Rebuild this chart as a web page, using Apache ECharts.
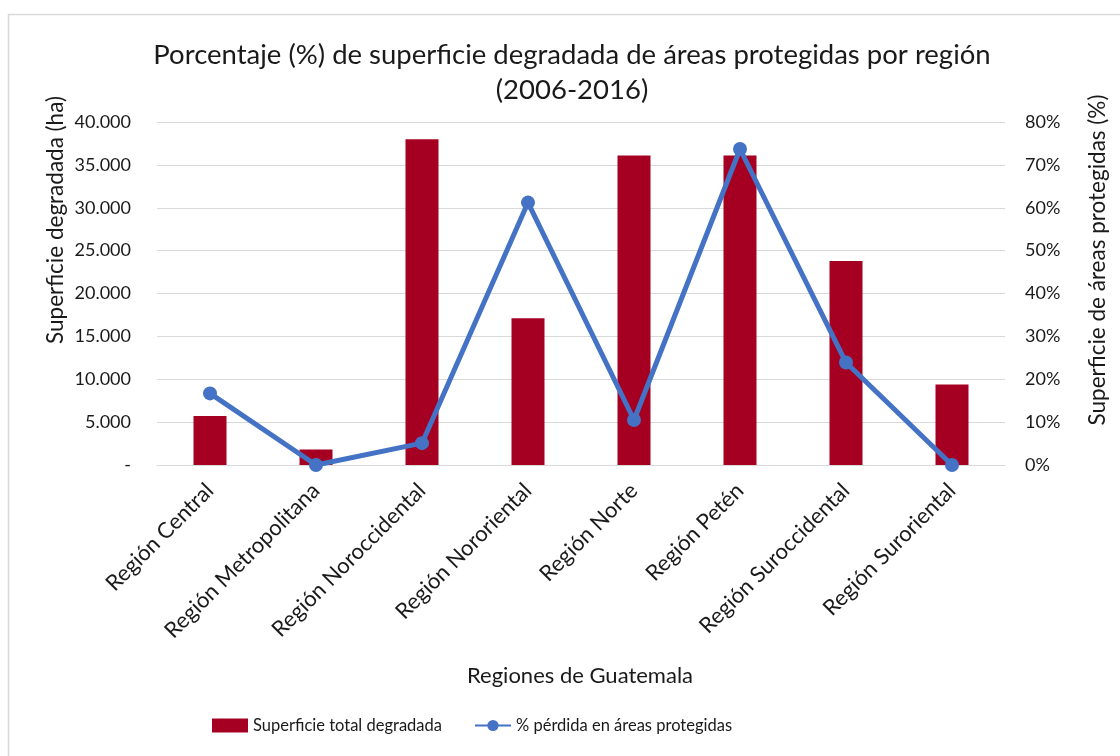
<!DOCTYPE html>
<html>
<head>
<meta charset="utf-8">
<script src="https://cdn.jsdelivr.net/npm/echarts@6/dist/echarts.min.js"></script>
<style>
  html, body { margin: 0; padding: 0; background: #fff; }
  #chart { width: 1120px; height: 756px; }
</style>
</head>
<body>
<div id="chart"></div>
<script>
// datos
const regiones = ['Región Central', 'Región Metropolitana', 'Región Noroccidental', 'Región Nororiental',
  'Región Norte', 'Región Petén', 'Región Suroccidental', 'Región Suroriental']
const superficieDegradada = [5700, 1800, 38000, 17100, 36100, 36100, 23800, 9400]
const perdidaPct = [16.7, 0, 5.1, 61.2, 10.5, 73.7, 23.9, 0]

const font = 'Lato, "Open Sans", sans-serif'
const textColor = '#1a1a1a'

const fmtMiles = v => v === 0 ? '-' : String(v).replace(/\B(?=(\d{3})+(?!\d))/g, '.')

const chart = echarts.init(document.getElementById('chart'))

chart.setOption({
  backgroundColor: '#fff',
  animation: false,
  textStyle: { fontFamily: font, color: textColor },
  grid: { left: 157, right: 115, top: 122, bottom: 291 },
  legend: {
    left: 207,
    top: 712,
    itemWidth: 36,
    itemHeight: 14,
    itemGap: 32,
    textStyle: { fontFamily: font, fontSize: 16.5, color: textColor },
    data: [
      { name: 'Superficie total degradada', icon: 'rect' },
      { name: '% pérdida en áreas protegidas' }
    ]
  },
  xAxis: {
    type: 'category',
    data: regiones,
    axisLine: { lineStyle: { color: '#d9d9d9', width: 1 } },
    axisTick: { show: false },
    axisLabel: {
      rotate: 45,
      margin: 22,
      fontSize: 22,
      fontFamily: font,
      color: textColor
    }
  },
  yAxis: [
    {
      type: 'value',
      min: 0,
      max: 40000,
      interval: 5000,
      axisLine: { show: false },
      axisTick: { show: false },
      splitLine: { lineStyle: { color: '#d9d9d9', width: 1 } },
      axisLabel: { formatter: fmtMiles, margin: 26, fontSize: 18, fontFamily: font, color: textColor }
    },
    {
      type: 'value',
      min: 0,
      max: 80,
      interval: 10,
      axisLine: { show: false },
      axisTick: { show: false },
      splitLine: { show: false },
      axisLabel: { formatter: '{value}%', margin: 20, fontSize: 18, fontFamily: font, color: textColor }
    }
  ],
  series: [
    {
      name: 'Superficie total degradada',
      type: 'bar',
      data: superficieDegradada,
      barWidth: 33,
      itemStyle: { color: '#a50021' }
    },
    {
      name: '% pérdida en áreas protegidas',
      type: 'line',
      yAxisIndex: 1,
      data: perdidaPct,
      symbol: 'circle',
      symbolSize: 14,
      lineStyle: { color: '#4472c4', width: 5 },
      itemStyle: { color: '#4472c4' }
    }
  ],
  graphic: [
    {
      type: 'rect',
      shape: { x: 8.5, y: 14.5, width: 1200, height: 800 },
      style: { fill: null, stroke: '#d9d9d9', lineWidth: 1.5 },
      silent: true
    },
    {
      type: 'text',
      x: 572, y: 55,
      style: { text: 'Porcentaje (%) de superficie degradada de áreas protegidas por región', font: '27.5px ' + font, fill: textColor, align: 'center', verticalAlign: 'middle' }
    },
    {
      type: 'text',
      x: 572, y: 90,
      style: { text: '(2006-2016)', font: '27.5px ' + font, fill: textColor, align: 'center', verticalAlign: 'middle' }
    },
    {
      type: 'text',
      x: 56, y: 220,
      rotation: Math.PI / 2,
      style: { text: 'Superficie degradada (ha)', font: '22.5px ' + font, fill: textColor, align: 'center', verticalAlign: 'middle' }
    },
    {
      type: 'text',
      x: 1098, y: 260,
      rotation: Math.PI / 2,
      style: { text: 'Superficie de áreas protegidas (%)', font: '22.5px ' + font, fill: textColor, align: 'center', verticalAlign: 'middle' }
    },
    {
      type: 'text',
      x: 580, y: 676,
      style: { text: 'Regiones de Guatemala', font: '22px ' + font, fill: textColor, align: 'center', verticalAlign: 'middle' }
    }
  ]
})
</script>
</body>
</html>
